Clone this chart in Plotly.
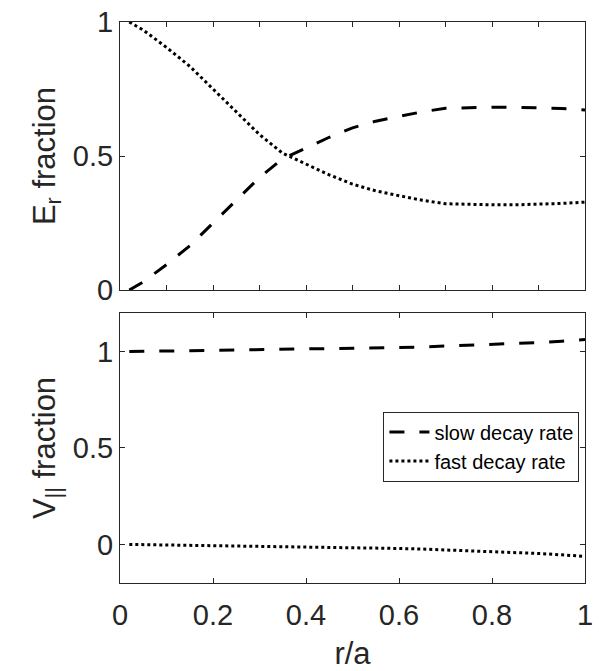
import plotly.graph_objects as go
from plotly.subplots import make_subplots

# Normalised radius r/a
r_over_a = [0.02, 0.05, 0.10, 0.15, 0.20, 0.25, 0.30, 0.35, 0.40, 0.45, 0.50,
            0.55, 0.60, 0.65, 0.70, 0.75, 0.80, 0.85, 0.90, 0.95, 1.00]

# Radial electric field fraction carried by each decay component
er_slow = [0.000, 0.030, 0.095, 0.165, 0.250, 0.335, 0.420, 0.490, 0.530, 0.570, 0.605,
           0.630, 0.648, 0.665, 0.678, 0.681, 0.682, 0.682, 0.680, 0.677, 0.672]
er_fast = [1.000, 0.970, 0.905, 0.835, 0.750, 0.665, 0.580, 0.510, 0.470, 0.430, 0.395,
           0.370, 0.352, 0.335, 0.322, 0.319, 0.318, 0.318, 0.320, 0.323, 0.328]

# Parallel velocity fraction carried by each decay component
v_slow = [1.000, 1.001, 1.002, 1.003, 1.005, 1.006, 1.008, 1.010, 1.012, 1.014, 1.016,
          1.018, 1.021, 1.024, 1.028, 1.032, 1.036, 1.041, 1.047, 1.054, 1.062]
v_fast = [0.000, -0.001, -0.002, -0.003, -0.005, -0.006, -0.008, -0.010, -0.012, -0.014, -0.016,
          -0.018, -0.021, -0.024, -0.028, -0.032, -0.036, -0.041, -0.047, -0.054, -0.062]

series_names = ["slow decay rate", "fast decay rate"]
x_ticks = [0, 0.2, 0.4, 0.6, 0.8, 1]
x_tick_text = ["0", "0.2", "0.4", "0.6", "0.8", "1"]
y_ticks = [0, 0.5, 1]
y_tick_text = ["0", "0.5", "1"]

INK = "#262626"
FONT = "Liberation Sans, Arial, Helvetica, sans-serif"
DASH = "15px,15px"
DOT = "3px,3px"

fig = make_subplots(rows=2, cols=1, shared_xaxes=False, vertical_spacing=0.0)

fig.add_trace(go.Scatter(x=r_over_a, y=er_slow, mode="lines", name=series_names[0],
                         line=dict(color="black", width=3, dash=DASH), showlegend=False),
              row=1, col=1)
fig.add_trace(go.Scatter(x=r_over_a, y=er_fast, mode="lines", name=series_names[1],
                         line=dict(color="black", width=3, dash=DOT), showlegend=False),
              row=1, col=1)
fig.add_trace(go.Scatter(x=r_over_a, y=v_slow, mode="lines", name=series_names[0],
                         line=dict(color="black", width=3, dash=DASH)),
              row=2, col=1)
fig.add_trace(go.Scatter(x=r_over_a, y=v_fast, mode="lines", name=series_names[1],
                         line=dict(color="black", width=3, dash=DOT)),
              row=2, col=1)

axis_common = dict(showline=True, linecolor=INK, linewidth=1, mirror="ticks",
                   ticks="inside", ticklen=5, tickcolor=INK, showgrid=False,
                   zeroline=False, ticklabeloverflow="allow",
                   tickfont=dict(family=FONT, size=29, color=INK))

fig.update_layout(
    width=599, height=671,
    margin=dict(l=120, r=6, t=20, b=88),
    paper_bgcolor="white", plot_bgcolor="white",
    font=dict(family=FONT, color=INK),
    xaxis=dict(domain=[0, 1], range=[0, 1], dtick=0.1, showticklabels=False, **axis_common),
    yaxis=dict(domain=[0.5222, 1], range=[0, 1], tickvals=y_ticks, ticktext=y_tick_text,
               title=dict(text="E<sub>r</sub> fraction", font=dict(family=FONT, size=31, color=INK),
                          standoff=8),
               **axis_common),
    xaxis2=dict(domain=[0, 1], range=[0, 1], tickvals=x_ticks, ticktext=x_tick_text,
                ticklabelstandoff=6,
                title=dict(text="r/a", font=dict(family=FONT, size=31, color=INK), standoff=12),
                **axis_common),
    yaxis2=dict(domain=[0, 0.4813], range=[-0.2, 1.2], tickvals=y_ticks, ticktext=y_tick_text,
                title=dict(text="V<sub>||</sub> fraction", font=dict(family=FONT, size=31, color=INK),
                           standoff=8),
                **axis_common),
    legend=dict(x=0.988, y=0.3055, xanchor="right", yanchor="top",
                bgcolor="white", bordercolor=INK, borderwidth=1,
                font=dict(family=FONT, size=20, color="black"),
                tracegroupgap=0, itemwidth=40),
)

fig.write_html("out.html")
